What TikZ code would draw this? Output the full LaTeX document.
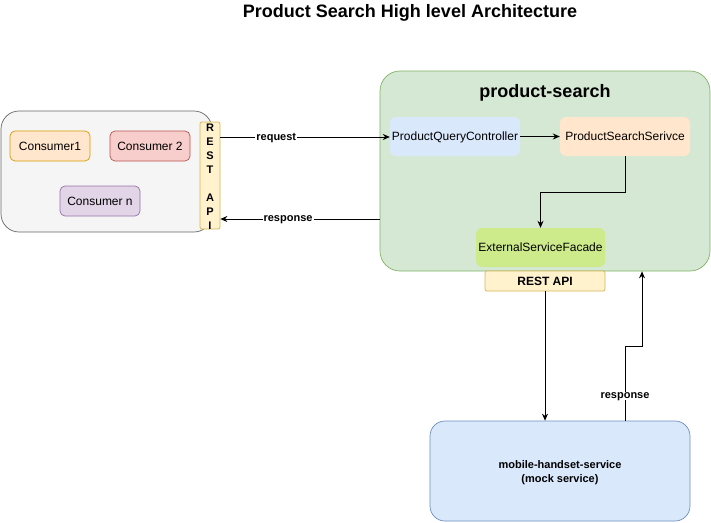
\documentclass[tikz,border=0pt]{standalone}
\usepackage{fontspec}
\setmainfont{Liberation Sans}
\usetikzlibrary{arrows.meta}
\definecolor{greyfill}{HTML}{F5F5F5}
\definecolor{greyline}{HTML}{666666}
\definecolor{orfill}{HTML}{FFE6CC}
\definecolor{orline}{HTML}{D79B00}
\definecolor{redfill}{HTML}{F8CECC}
\definecolor{redline}{HTML}{B85450}
\definecolor{purfill}{HTML}{E1D5E7}
\definecolor{purline}{HTML}{9673A6}
\definecolor{yelfill}{HTML}{FFF2CC}
\definecolor{yelline}{HTML}{D6B656}
\definecolor{grnfill}{HTML}{D5E8D4}
\definecolor{grnline}{HTML}{82B366}
\definecolor{blufill}{HTML}{DAE8FC}
\definecolor{bluline}{HTML}{6C8EBF}
\definecolor{limefill}{HTML}{CDEB8B}
\begin{document}
\begin{tikzpicture}[x=1pt,y=-1pt,
  box/.style={rounded corners=5pt,draw,line width=0.7pt,font=\fontsize{12}{14}\selectfont,inner sep=0pt,text depth=0pt},
  flat/.style={rounded corners=6pt,font=\fontsize{12}{14}\selectfont,inner sep=0pt,text depth=0pt},
  arr/.style={-{Stealth[length=7pt,width=6pt]},line width=0.8pt},
  lbl/.style={font=\bfseries\fontsize{11}{13}\selectfont,fill=white,inner sep=1pt,text depth=0pt}]
\useasboundingbox (0,0) rectangle (711,522);
\node[font=\bfseries\fontsize{18}{21}\selectfont] (title) at (410,13) {Product Search High level Architecture};
% left container
\draw[greyline,fill=greyfill,rounded corners=18pt,line width=0.7pt] (1,111) rectangle (212,232);
\node[box,draw=orline,fill=orfill,minimum width=80pt,minimum height=30pt] (c1) at (50,146) {Consumer1};
\node[box,draw=redline,fill=redfill,minimum width=80pt,minimum height=30pt] (c2) at (150,146) {Consumer 2};
\node[box,draw=purline,fill=purfill,minimum width=80pt,minimum height=30pt] (cn) at (100,201) {Consumer n};
\node[draw=yelline,fill=yelfill,rounded corners=2pt,line width=0.7pt,minimum width=20pt,minimum height=107pt,inner sep=0pt] (rest1) at (210,175.5) {};
\node[font=\bfseries\fontsize{11}{14}\selectfont,align=center,inner sep=0pt] (rest1t) at (210,176.5) {R\\E\\S\\T\\[14pt]A\\P\\I};
% product-search container
\node[draw=grnline,fill=grnfill,rounded corners=20pt,line width=0.7pt,minimum width=330pt,minimum height=200pt,inner sep=0pt] (ps) at (545,171) {};
\node[font=\bfseries\fontsize{18}{21}\selectfont] (pstitle) at (545,92.5) {product-search};
\node[flat,fill=blufill,minimum width=130pt,minimum height=39pt] (pqc) at (455,136.5) {ProductQueryController};
\node[flat,fill=orfill,minimum width=130pt,minimum height=39pt] (pss) at (625,136.5) {ProductSearchSerivce};
\node[flat,fill=limefill,minimum width=129pt,minimum height=39pt] (esf) at (540.5,247.5) {ExternalServiceFacade};
\node[draw=yelline,fill=yelfill,rounded corners=2pt,line width=0.7pt,minimum width=120pt,minimum height=20pt,inner sep=0pt,text depth=0pt,font=\bfseries\fontsize{12}{14}\selectfont] (rest2) at (545,281) {REST API};
% mobile service
\node[draw=bluline,fill=blufill,rounded corners=15pt,line width=0.7pt,minimum width=260pt,minimum height=100pt,inner sep=0pt,align=center,font=\bfseries\fontsize{11}{14}\selectfont] (mhs) at (560,471) {};
\node[align=center,font=\bfseries\fontsize{11}{14}\selectfont] (mhst) at (560,473) {mobile-handset-service\\(mock service)};
% connectors
\draw[arr] (rest1.east |- 0,137) -- node[lbl,pos=0.33] {request} (pqc.west |- 0,137);
\draw[arr] (ps.west |- 0,219) -- node[lbl,pos=0.575] {response} (rest1.east |- 0,219);
\draw[arr] (pqc) -- (pss);
\draw[arr] (pss.south) -- (625,192) -| (esf.north);
\draw[arr] (rest2.south) -- (mhs.north -| rest2.south);
\draw[arr] (mhs.north -| 625,0) -- node[lbl,pos=0.33] {response} (625,346) -- (642,346) -- (ps.south -| 642,0);
\end{tikzpicture}
\end{document}
